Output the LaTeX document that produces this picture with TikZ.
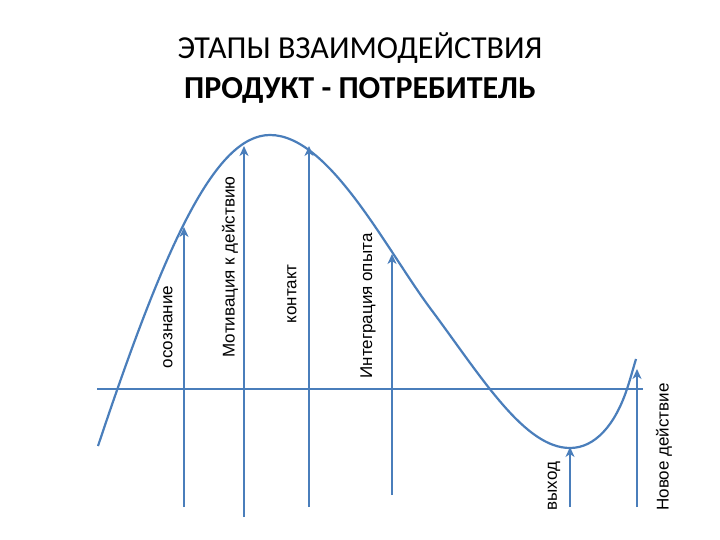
\documentclass[tikz,border=0pt]{standalone}
\usepackage{fontspec}
\setmainfont{Liberation Sans}
\newfontfamily\titlefont{Carlito}
\usetikzlibrary{arrows.meta}
\definecolor{linecol}{HTML}{4A7EBB}
\begin{document}
\begin{tikzpicture}[x=1pt,y=-1pt,
  curveline/.style={draw=linecol,line width=2.2pt,line join=round},
  axisline/.style={draw=linecol,line width=2.2pt},
  uparrow/.style={draw=linecol,line width=2.2pt,-{Stealth[length=10pt,width=9pt,inset=3pt]}},
  stagelabel/.style={rotate=90,font=\fontsize{17}{20}\selectfont,inner sep=0pt}]
\useasboundingbox (0,0) rectangle (720,540);
% title
\node[font=\titlefont\fontsize{32}{38}\selectfont,inner sep=0pt] (t1) at (360,48) {ЭТАПЫ ВЗАИМОДЕЙСТВИЯ};
\node[font=\titlefont\bfseries\fontsize{32}{38}\selectfont,inner sep=0pt] (t2) at (360,90) {ПРОДУКТ - ПОТРЕБИТЕЛЬ};
% axis
\coordinate (axL) at (97,389);
\coordinate (axR) at (643,389);
\draw[axisline] (axL) -- (axR);
% curve
\coordinate (c0) at (98,446);
\coordinate (cpeak) at (270,135);
\coordinate (cmid) at (433,312);
\coordinate (cmin) at (570,448);
\coordinate (cup) at (627,389);
\coordinate (cend) at (636,359);
\draw[curveline] (c0) .. controls (165,245) and (215,135) .. (cpeak)
  .. controls (330,135) and (388,253) .. (cmid)
  .. controls (483,379.5) and (525,448) .. (cmin)
  .. controls (595,448) and (615,425) .. (cup)
  .. controls (630,380) and (633,369) .. (cend);
% arrows
\coordinate (b1) at (184,507); \coordinate (e1) at (184,227);
\coordinate (b2) at (244,517); \coordinate (e2) at (244,146);
\coordinate (b3) at (309,507); \coordinate (e3) at (309,146);
\coordinate (b4) at (392,495); \coordinate (e4) at (392,254);
\coordinate (b5) at (570,507); \coordinate (e5) at (570,447);
\coordinate (b6) at (637,507); \coordinate (e6) at (637,369);
\foreach \i in {1,...,6} {\draw[uparrow] (b\i) -- (e\i);}
% labels
\node[stagelabel] (l1) at (168,327) {осознание};
\node[stagelabel] (l2) at (230,267) {Мотивация к действию};
\node[stagelabel] (l3) at (292,294) {контакт};
\node[stagelabel] (l4) at (368,306) {Интеграция опыта};
\node[stagelabel] (l5) at (554,486) {выход};
\node[stagelabel] (l6) at (664,447) {Новое действие};
\end{tikzpicture}
\end{document}
